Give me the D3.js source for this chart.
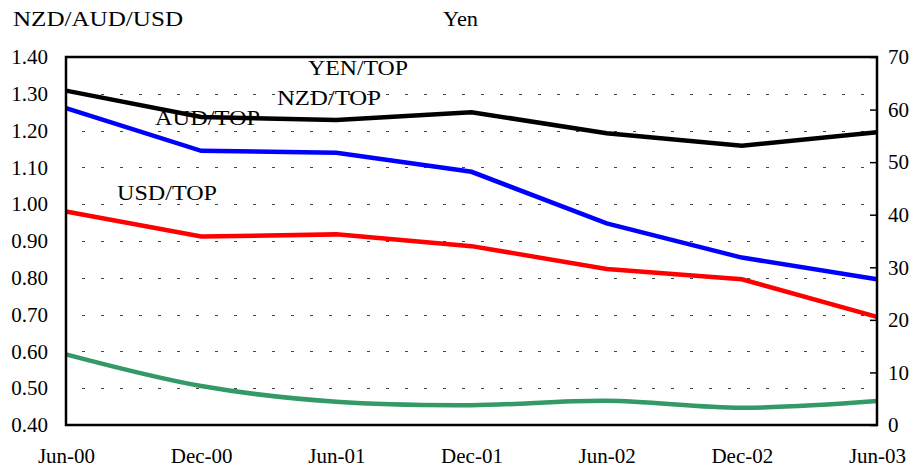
<!DOCTYPE html>
<html>
<head>
<meta charset="utf-8">
<script src="https://cdn.jsdelivr.net/npm/d3@7/dist/d3.min.js"></script>
<style>
  body { margin: 0; background: #fff; }
  text { font-family: "Liberation Serif", "DejaVu Serif", serif; fill: #000; }
</style>
</head>
<body>
<div id="chart-area"></div>
<script>
// data
var dates = ["Jun-00", "Dec-00", "Jun-01", "Dec-01", "Jun-02", "Dec-02", "Jun-03"];
var yenTop = [63.6, 58.6, 58.0, 59.5, 55.5, 53.1, 55.7];      // right axis
var nzdTop = [1.261, 1.145, 1.140, 1.088, 0.948, 0.855, 0.796];
var audTop = [0.980, 0.912, 0.918, 0.886, 0.824, 0.796, 0.694];
var usdTop = [0.592, 0.506, 0.463, 0.454, 0.466, 0.447, 0.465];
var leftTicks = [0.4, 0.5, 0.6, 0.7, 0.8, 0.9, 1.0, 1.1, 1.2, 1.3, 1.4];
var rightTicks = [0, 10, 20, 30, 40, 50, 60, 70];

var margin = { left: 66, right: 37, top: 57, bottom: 48 };
var W = 914, H = 473;
var chartW = W - margin.left - margin.right;
var chartH = H - margin.top - margin.bottom;

var svg = d3.select("#chart-area").append("svg")
    .attr("width", W)
    .attr("height", H);

var g = svg.append("g")
    .attr("transform", "translate(" + margin.left + "," + margin.top + ")");

// Scales
var x = d3.scalePoint().domain(dates).range([0, chartW]);
var yL = d3.scaleLinear().domain([0.4, 1.4]).range([chartH, 0]);
var yR = d3.scaleLinear().domain([0, 70]).range([chartH, 0]);

// dotted gridlines
g.append("g").attr("class", "grid")
  .selectAll("line")
  .data(leftTicks.slice(1, -1))
  .enter().append("line")
    .attr("x1", 16)
    .attr("x2", chartW - 12)
    .attr("y1", function(d) { return Math.round(yL(d)) + 0.5; })
    .attr("y2", function(d) { return Math.round(yL(d)) + 0.5; })
    .attr("stroke", "#444")
    .attr("stroke-width", 1.2)
    .attr("stroke-dasharray", "3,16");

// left axis
var leftAxis = g.append("g")
    .call(d3.axisLeft(yL).tickValues(leftTicks).tickFormat(d3.format(".2f")).tickSize(0).tickPadding(18));
leftAxis.select(".domain").remove();
leftAxis.selectAll("text").attr("font-size", "21px").attr("font-family", "Liberation Serif");

// right axis with inner ticks
var rightAxis = g.append("g")
    .attr("transform", "translate(" + chartW + ",0)")
    .call(d3.axisRight(yR).tickValues(rightTicks).tickSizeInner(-7).tickSizeOuter(0).tickPadding(11));
rightAxis.select(".domain").remove();
rightAxis.selectAll("line").attr("stroke", "#000").attr("stroke-width", 1.5);
rightAxis.selectAll("text").attr("font-size", "21px").attr("font-family", "Liberation Serif");

// bottom axis labels
var bottomAxis = g.append("g")
    .attr("transform", "translate(0," + chartH + ")")
    .call(d3.axisBottom(x).tickSize(0).tickPadding(0));
bottomAxis.select(".domain").remove();
bottomAxis.selectAll("text")
    .attr("dy", null)
    .attr("y", 38)
    .attr("font-size", "21px")
    .attr("font-family", "Liberation Serif");

// lines
var lineL = d3.line()
    .x(function(d, i) { return x(dates[i]); })
    .y(function(d) { return yL(d); });
var lineR = d3.line()
    .x(function(d, i) { return x(dates[i]); })
    .y(function(d) { return yR(d); });
var lineSmooth = d3.line()
    .x(function(d, i) { return x(dates[i]); })
    .y(function(d) { return yL(d); })
    .curve(d3.curveCatmullRom.alpha(0.5));

g.append("path").datum(usdTop)
    .attr("fill", "none").attr("stroke", "#339966").attr("stroke-width", 4.5)
    .attr("d", lineSmooth);
g.append("path").datum(audTop)
    .attr("fill", "none").attr("stroke", "#ff0000").attr("stroke-width", 4.5)
    .attr("d", lineL);
g.append("path").datum(nzdTop)
    .attr("fill", "none").attr("stroke", "#0000ff").attr("stroke-width", 4.5)
    .attr("d", lineL);
g.append("path").datum(yenTop)
    .attr("fill", "none").attr("stroke", "#000").attr("stroke-width", 4.5)
    .attr("d", lineR);

// plot border
g.append("rect")
    .attr("x", 0).attr("y", 0)
    .attr("width", chartW).attr("height", chartH)
    .attr("fill", "none")
    .attr("stroke", "#000")
    .attr("stroke-width", 2.5);

// series labels
var labels = [
  { t: "YEN/TOP", x: 308, y: 75, w: 100 },
  { t: "NZD/TOP", x: 277, y: 105, w: 104 },
  { t: "AUD/TOP", x: 155, y: 125, w: 105 },
  { t: "USD/TOP", x: 117, y: 200, w: 100 }
];
labels.forEach(function(l) {
  svg.append("text")
    .attr("x", l.x).attr("y", l.y)
    .attr("font-size", "21px")
    .attr("textLength", l.w)
    .attr("lengthAdjust", "spacingAndGlyphs")
    .text(l.t);
});

// axis titles
svg.append("text")
    .attr("x", 13).attr("y", 26)
    .attr("font-size", "21px")
    .attr("textLength", 170)
    .attr("lengthAdjust", "spacingAndGlyphs")
    .text("NZD/AUD/USD");
svg.append("text")
    .attr("x", 443).attr("y", 26)
    .attr("font-size", "21px")
    .attr("textLength", 35)
    .attr("lengthAdjust", "spacingAndGlyphs")
    .text("Yen");
</script>
</body>
</html>
